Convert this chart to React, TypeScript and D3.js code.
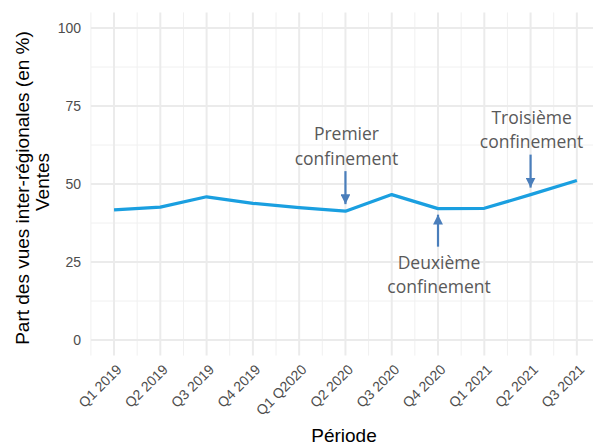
import React from 'react';
import * as d3 from 'd3';

const periods = ['Q1 2019', 'Q2 2019', 'Q3 2019', 'Q4 2019', 'Q1 Q2020', 'Q2 2020', 'Q3 2020', 'Q4 2020', 'Q1 2021', 'Q2 2021', 'Q3 2021'];
const ventes = [41.7, 42.6, 45.9, 43.8, 42.4, 41.3, 46.6, 42.1, 42.2, 46.6, 51.1];
const yTicks = [0, 25, 50, 75, 100];
const yMinor = [12.5, 37.5, 62.5, 87.5];

// annotations: index of period, label lines, arrow direction
const annotations = [
    { idx: 5, lines: ['Premier', 'confinement'], above: true },
    { idx: 7, lines: ['Deuxième', 'confinement'], above: false },
    { idx: 9, lines: ['Troisième', 'confinement'], above: true },
];

const W = 593;
const H = 444;
const axisFont = '"Liberation Sans", Arial, sans-serif';
const noteFont = '"Open Sans", "Noto Sans", sans-serif';

const App = () => {
    const x = d3.scaleLinear().domain([0.5, periods.length + 0.5]).range([90.9, 600]);
    const y = d3.scaleLinear().domain([-5, 105]).range([355.6, 12.4]);
    const [x0, x1] = x.range();
    const [yBot, yTop] = y.range();

    const line = d3.line<number>()
        .x((_, i) => x(i + 1))
        .y(d => y(d));

    const xMinor = d3.range(0.5, periods.length + 1, 1);

    return (
        <svg width={W} height={H} style={{ position: 'absolute', left: 0, top: 0, background: '#fff' }}>
            {/* minor grid */}
            {yMinor.map(v => (
                <line key={'ym' + v} x1={x0} x2={x1} y1={y(v)} y2={y(v)} stroke="#f0f0f0" strokeWidth={1} />
            ))}
            {xMinor.map(v => (
                <line key={'xm' + v} x1={x(v)} x2={x(v)} y1={yTop} y2={yBot} stroke="#f0f0f0" strokeWidth={1} />
            ))}
            {/* major grid */}
            {yTicks.map(v => (
                <line key={'y' + v} x1={x0} x2={x1} y1={y(v)} y2={y(v)} stroke="#ebebeb" strokeWidth={2} />
            ))}
            {periods.map((p, i) => (
                <line key={'x' + p} x1={x(i + 1)} x2={x(i + 1)} y1={yTop} y2={yBot} stroke="#ebebeb" strokeWidth={2} />
            ))}

            <path d={line(ventes) || ''} fill="none" stroke="#1a9fe0" strokeWidth={3.2} strokeLinejoin="round" />

            {/* y tick labels */}
            {yTicks.map(v => (
                <text key={'yl' + v} x={81} y={y(v)} dy="0.35em" textAnchor="end" fontFamily={axisFont} fontSize={14} fill="#4d4d4d">{v}</text>
            ))}
            {/* x tick labels */}
            {periods.map((p, i) => (
                <text key={'xl' + p} transform={`translate(${x(i + 1) + 5},${367}) rotate(-45)`} dy="0.35em" textAnchor="end" fontFamily={axisFont} fontSize={14} fill="#4d4d4d">{p}</text>
            ))}

            {/* axis titles */}
            <text transform={`translate(29,${188}) rotate(-90)`} textAnchor="middle" fontFamily={axisFont} fontSize={19} fill="#000">Part des vues inter-régionales (en %)</text>
            <text transform={`translate(49,${182}) rotate(-90)`} textAnchor="middle" fontFamily={axisFont} fontSize={19} fill="#000">Ventes</text>
            <text x={344} y={441.5} textAnchor="middle" fontFamily={axisFont} fontSize={19} fill="#000">Période</text>

            {/* annotations */}
            <defs>
                <marker id="arrowHead" viewBox="0 0 10 10" refX={10} refY={5} markerWidth={4.5} markerHeight={4.5} orient="auto" markerUnits="strokeWidth">
                    <path d="M0,0 L10,5 L0,10 z" fill="#4a7ebb" />
                </marker>
            </defs>
            {annotations.map(a => {
                const ax = x(a.idx + 1);
                const ay = y(ventes[a.idx]);
                const tip = a.above ? ay - 7 : ay + 6;
                const tail = a.above ? tip - 33 : tip + 32;
                const textY = a.above ? tail - 37 : tail + 16;
                return (
                    <g key={a.idx}>
                        <line x1={ax} x2={ax} y1={tail} y2={tip} stroke="#4a7ebb" strokeWidth={2.2} markerEnd="url(#arrowHead)" />
                        {a.lines.map((l, k) => (
                            <text key={k} x={ax + 1} y={textY + k * 24.5} dy="0.35em" textAnchor="middle" fontFamily={noteFont} fontSize={17.5} fill="#595959">{l}</text>
                        ))}
                    </g>
                );
            })}
        </svg>
    );
};

export default App;
